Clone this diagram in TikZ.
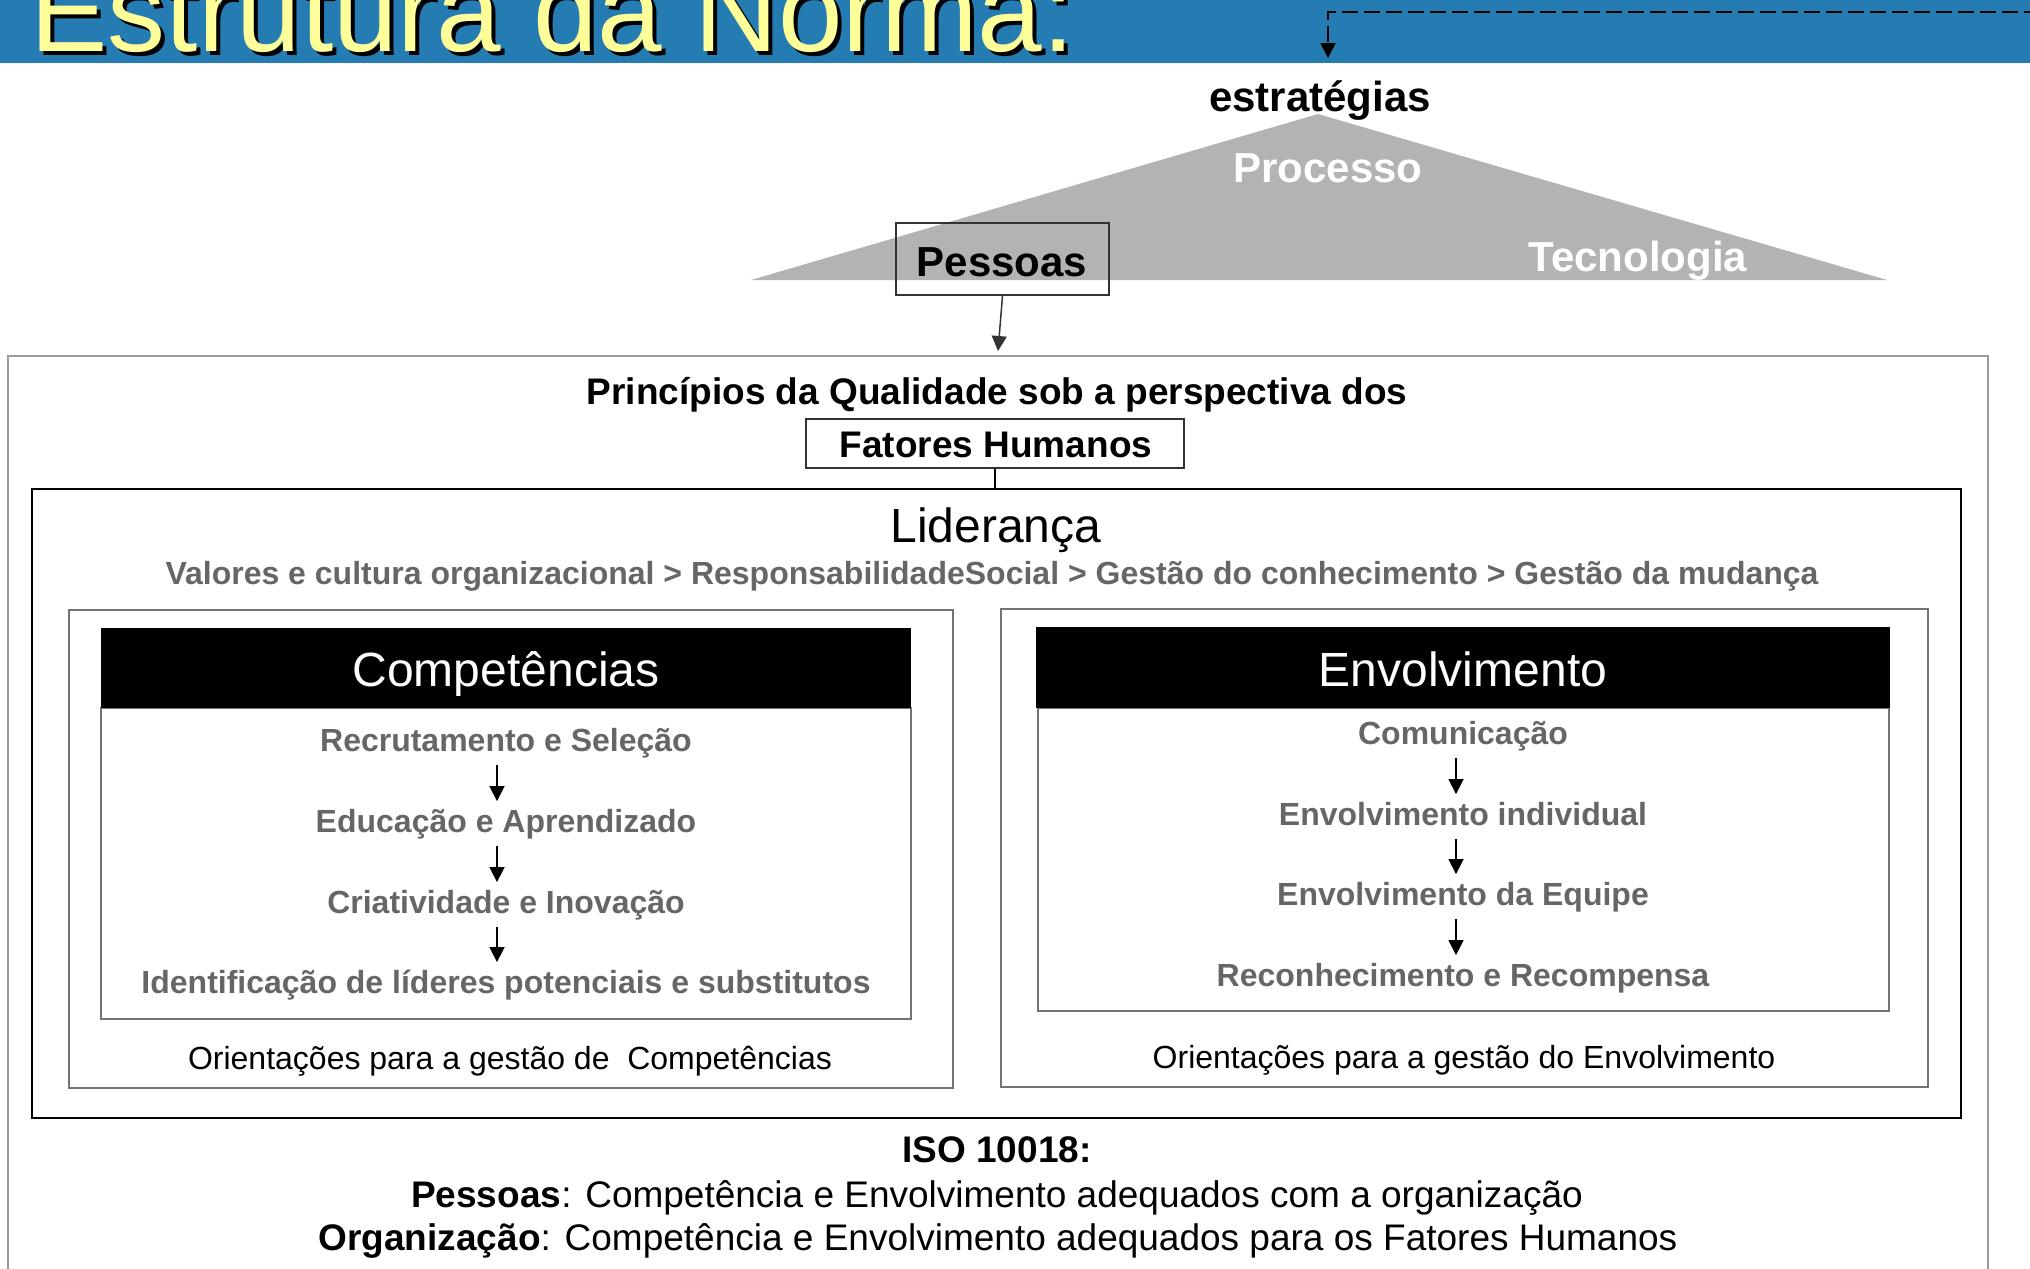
\documentclass[tikz,border=0pt]{standalone}
\usepackage{fontspec}
\setmainfont{Liberation Sans}
\usetikzlibrary{arrows.meta,fit}
\definecolor{titleblue}{RGB}{36,124,178}
\definecolor{titleyellow}{RGB}{255,255,153}
\definecolor{trigray}{RGB}{179,179,179}
\definecolor{txtgray}{RGB}{102,102,102}
\definecolor{outergray}{RGB}{153,153,153}
\definecolor{boxgray}{RGB}{115,115,115}
\definecolor{darkline}{RGB}{51,51,51}
\begin{document}
\begin{tikzpicture}[x=0.5pt,y=-0.5pt,
  txt/.style={inner sep=0pt, anchor=base},
  f42/.style={font=\fontsize{21}{25}\selectfont\bfseries},
  f37/.style={font=\fontsize{18.5}{22}\selectfont},
  f37b/.style={font=\fontsize{18.5}{22}\selectfont\bfseries},
  f48/.style={font=\fontsize{24}{28}\selectfont},
  f32/.style={font=\fontsize{16}{19}\selectfont},
  f32b/.style={font=\fontsize{16}{19}\selectfont\bfseries},
  item/.style={txt, f32b, text=txtgray, text height=12pt, text depth=3.5pt},
  frame/.style={inner sep=0pt, draw},
  tip/.style={-{Triangle[width=7.5pt,length=7.5pt]}},
  flow/.style={line width=0.75pt, tip, shorten <=3.5pt, shorten >=3.25pt},
]
\useasboundingbox (0,0) rectangle (2030,1269);
\clip (0,0) rectangle (2030,1269);

% title bar
\fill[titleblue] (0,0) rectangle (2030,63);
\node[txt, anchor=base west, font=\fontsize{58}{60}\selectfont, text=black] (titleshadow) at (34,55) {Estrutura da Norma:};
\node[txt, anchor=base west, font=\fontsize{58}{60}\selectfont, text=titleyellow] (title) at (30,51) {Estrutura da Norma:};
\coordinate (dashstart) at (2040,12);
\coordinate (dashend) at (1328,58);
\draw[line width=1pt, dash pattern=on 8pt off 3pt, tip] (dashstart) -| (dashend);

% triangle
\fill[trigray] (1318,114) -- (751,280) -- (1887,280) -- cycle;
\node[txt,f42] (estr) at (1320,111) {estratégias};
\node[txt,f42,text=white] (proc) at (1328,182) {Processo};
\node[txt,f42,text=white] (tecn) at (1638,271) {Tecnologia};
\node[frame, draw=darkline, line width=1pt, fit={(896,223) (1109,295)}] (pessbox) {};
\node[txt,f42] (pess) at (1002,276) {Pessoas};
\coordinate (pessarr) at (998,351);
\draw[line width=0.75pt, draw=darkline, tip] (pessbox.south) -- (pessarr);

% outer frame
\node[frame, draw=outergray, line width=1pt, fit={(8,356) (1988,1300)}] (outer) {};
\node[txt,f37b] (princ) at (997,404) {Princípios da Qualidade sob a perspectiva dos};
\node[frame, draw=darkline, line width=0.75pt, fit={(806,419) (1184,468)}] (fatbox) {};
\node[txt,f37b] (fat) at (996,457) {Fatores Humanos};

% lideranca frame
\node[frame, draw=black, line width=1pt, fit={(32,489) (1961,1118)}] (lidbox) {};
\draw[line width=0.75pt] (fatbox.south) -- (fatbox.south |- lidbox.north);
\node[txt,f48] (lid) at (996,542) {Liderança};
\node[txt,f32b,text=txtgray] (valores) at (992,584) {Valores e cultura organizacional > ResponsabilidadeSocial > Gestão do conhecimento > Gestão da mudança};

% competencias
\node[frame, draw=boxgray, line width=1pt, fit={(69,610) (953,1088)}] (compframe) {};
\node[frame, draw=boxgray, line width=1pt, fit={(101,708) (911,1019)}] (compinner) {};
\node[frame, draw=none, fill=black, fit={(101,628) (911,708)}] (comphead) {};
\node[txt,f48,text=white] (comptitle) at (506,686) {Competências};
\node[item] (c1) at (506,751) {Recrutamento e Seleção};
\node[item] (c2) at (506,832) {Educação e Aprendizado};
\node[item] (c3) at (506,913) {Criatividade e Inovação};
\node[item] (c4) at (506,993) {Identificação de líderes potenciais e substitutos};
\coordinate (cax) at (497,0);
\draw[flow] (c1.south -| cax) -- (c2.north -| cax);
\draw[flow] (c2.south -| cax) -- (c3.north -| cax);
\draw[flow] (c3.south -| cax) -- (c4.north -| cax);
\node[txt,f32] (comporient) at (510,1069) {Orientações para a gestão de\ \ Competências};

% envolvimento
\node[frame, draw=boxgray, line width=1pt, fit={(1001,609) (1928,1087)}] (envframe) {};
\node[frame, draw=boxgray, line width=1pt, fit={(1038,708) (1889,1011)}] (envinner) {};
\node[frame, draw=none, fill=black, fit={(1036,627) (1890,708)}] (envhead) {};
\node[txt,f48,text=white] (envtitle) at (1463,686) {Envolvimento};
\node[item] (e1) at (1463,744) {Comunicação};
\node[item] (e2) at (1463,825) {Envolvimento individual};
\node[item] (e3) at (1463,905) {Envolvimento da Equipe};
\node[item] (e4) at (1463,986) {Reconhecimento e Recompensa};
\coordinate (eax) at (1456,0);
\draw[flow] (e1.south -| eax) -- (e2.north -| eax);
\draw[flow] (e2.south -| eax) -- (e3.north -| eax);
\draw[flow] (e3.south -| eax) -- (e4.north -| eax);
\node[txt,f32] (envorient) at (1464,1068) {Orientações para a gestão do Envolvimento};

% bottom
\node[txt,f37b] (iso) at (997,1162) {ISO 10018:};
\node[txt,f37] (pessline) at (997,1207) {\textbf{Pessoas}: Competência e Envolvimento adequados com a organização};
\node[txt,f37] (orgline) at (998,1250) {\textbf{Organização}: Competência e Envolvimento adequados para os Fatores Humanos};
\end{tikzpicture}
\end{document}
